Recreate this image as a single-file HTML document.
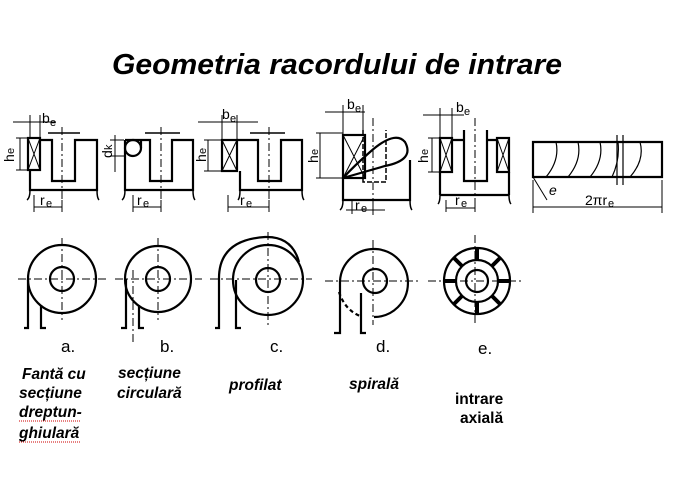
<!DOCTYPE html>
<html><head><meta charset="utf-8"><style>
html,body{margin:0;padding:0;background:#fff;}
svg{display:block}
text{font-family:"Liberation Sans",sans-serif;fill:#000}
.t{font-weight:bold;font-style:italic;font-size:15.5px}
</style></head><body>
<svg width="675" height="497" viewBox="0 0 675 497" xmlns="http://www.w3.org/2000/svg">
<rect width="675" height="497" fill="#fff"/>
<text x="337" y="74" text-anchor="middle" textLength="450" lengthAdjust="spacingAndGlyphs" style="font-weight:bold;font-style:italic;font-size:29px">Geometria racordului de intrare</text>

<g fill="none" stroke="#000" stroke-width="2.2">
<!-- a -->
<rect x="28" y="138" width="12" height="32"/>
<path d="M28 138 L40 170 M40 138 L28 170" stroke-width="1"/>
<path d="M40 140 H52 V181 H75 V140 H97 V190 H30 V170"/>
<path d="M30 190 Q30 198 27 200 M97 190 Q97 198 99 200" stroke-width="1.5"/>
<path d="M48 133 H80" stroke-width="1.5"/>
<path d="M62 127 V210" stroke-width="1" stroke-dasharray="8,3,2,3"/>
<path d="M13 122 H56 M30 115 V138 M40 115 V138 M20 138 V170 M16 138 H28 M16 170 H28 M34 195 V212 M62 200 V212 M34 207 H62" stroke-width="1"/>
<!-- b -->
<circle cx="133" cy="148" r="8"/>
<path d="M125 140 H141 V148 M125 140 V190 H193 V140 H172 V181 H150 V140 H141" />
<path d="M125 190 Q125 198 122 200 M193 190 Q193 198 195 200" stroke-width="1.5"/>
<path d="M145 133 H180" stroke-width="1.5"/>
<path d="M161 127 V210" stroke-width="1" stroke-dasharray="8,3,2,3"/>
<path d="M115 135 V172 M110 140 H124 M110 156 H124 M133 195 V212 M161 200 V212 M133 207 H161" stroke-width="1"/>
<!-- c -->
<rect x="222" y="140" width="15" height="31"/>
<path d="M222 140 L237 171 M237 140 L222 171" stroke-width="1"/>
<path d="M237 140 H258 V181 H281 V140 H302 V190 H240 V171"/>
<path d="M240 190 Q240 198 238 200 M302 190 Q302 198 304 200" stroke-width="1.5"/>
<path d="M250 133 H285" stroke-width="1.5"/>
<path d="M269 127 V212" stroke-width="1" stroke-dasharray="8,3,2,3"/>
<path d="M198 122 H258 M222 115 V140 M237 115 V140 M208 140 V171 M204 140 H222 M204 171 H222 M228 195 V212 M269 200 V212 M228 207 H269" stroke-width="1"/>
<!-- d -->
<rect x="343" y="135" width="22" height="43"/>
<path d="M343 135 L365 178 M365 135 L343 178" stroke-width="1"/>
<path d="M343 178 L385 166 Q415 160 405 142 Q395 130 370 152 Q355 165 343 178" />
<path d="M363 130 V182 H386 V130" stroke-width="1.5" stroke-dasharray="5,2"/>
<path d="M343 178 V200 H410 V160" />
<path d="M343 200 Q343 208 340 210 M410 200 Q410 208 412 210" stroke-width="1.5"/>
<path d="M373 118 V215" stroke-width="1" stroke-dasharray="8,3,2,3"/>
<path d="M325 112 H365 M343 105 V135 M363 105 V130 M320 133 V178 M316 133 H343 M316 178 H343 M352 200 V214 M373 200 V214 M346 210 H385" stroke-width="1"/>
<!-- e -->
<rect x="440" y="138" width="12" height="34"/>
<path d="M440 138 L452 172 M452 138 L440 172" stroke-width="1"/>
<rect x="497" y="138" width="12" height="34"/>
<path d="M497 138 L509 172 M509 138 L497 172" stroke-width="1"/>
<path d="M452 140 H464 V181 H487 V130 M464 130 V140 M487 140 H497"/>
<path d="M440 172 V195 M509 172 V195 M440 195 H509" />
<path d="M440 195 Q440 202 438 204 M509 195 Q509 202 511 204" stroke-width="1.5"/>
<path d="M475 118 V212" stroke-width="1" stroke-dasharray="8,3,2,3"/>
<path d="M423 115 H464 M440 108 V138 M452 108 V138 M432 138 V172 M428 138 H440 M428 172 H440 M446 200 V212 M475 200 V212 M446 208 H475" stroke-width="1"/>
<!-- right unrolled -->
<path d="M533 142 H662 V177 H533 Z"/>
<path d="M546 177 Q560 160 556 142 M568 177 Q582 160 578 142 M590 177 Q604 160 600 142 M612 177 Q620 160 618 142 M630 177 Q645 160 640 142" stroke-width="1.2"/>
<path d="M617 135 V185 M623 135 V185" stroke-width="1.2"/>
<path d="M533 177 L547 200 M533 180 V213 M662 180 V213 M533 207 H662" stroke-width="1"/>

<!-- circles row -->
<g stroke-width="1" stroke-dasharray="8,3,2,3">
<path d="M18 279 H108 M62 238 V320"/>
<path d="M115 279 H202 M158 238 V320 M133 270 V345"/>
<path d="M210 279 H312 M268 232 V325"/>
<path d="M325 281 H420 M373 240 V325"/>
<path d="M428 281 H522 M475 235 V325"/>
</g>
<circle cx="62" cy="279" r="34"/><circle cx="62" cy="279" r="12"/>
<path d="M28 279 V328 H24 M41 305 V328 H46"/>
<circle cx="158" cy="279" r="33"/><circle cx="158" cy="279" r="12"/>
<path d="M126 279 V328 H121 M139 305 V328 H144"/>
<circle cx="268" cy="280" r="35"/><circle cx="268" cy="280" r="12"/>
<path d="M219 280 Q218 240 265 237 Q292 236 299 262"/>
<path d="M219 280 V328 H215 M236 280 V328 H241"/>
<path d="M374 317 A34 34 0 1 0 340 281"/>
<path d="M339 292 Q345 310 360 316" stroke-dasharray="4,3"/>
<circle cx="375" cy="281" r="12"/>
<path d="M340 281 V333 H334 M361 293 V333 H366"/>
<circle cx="477" cy="281" r="33"/><circle cx="477" cy="281" r="21"/><circle cx="477" cy="281" r="11"/>
<path d="M477 248 V260 M477 302 V314 M444 281 H456 M498 281 H510 M454 258 L462 266 M500 258 L492 266 M454 304 L462 296 M500 304 L492 296" stroke-width="4"/>
</g>

<g style="font-size:14px">
<text x="42" y="123">b</text><text x="50" y="126" style="font-size:11px">e</text>
<text x="14" y="162" transform="rotate(-90 14 162)">h</text><text x="14" y="154" transform="rotate(-90 14 154)" style="font-size:11px">e</text>
<text x="40" y="205">r</text><text x="46" y="207" style="font-size:11px">e</text>
<text x="112" y="158" transform="rotate(-90 112 158)">d</text><text x="112" y="150" transform="rotate(-90 112 150)" style="font-size:11px">k</text>
<text x="137" y="205">r</text><text x="143" y="207" style="font-size:11px">e</text>
<text x="222" y="119">b</text><text x="230" y="122" style="font-size:11px">e</text>
<text x="206" y="162" transform="rotate(-90 206 162)">h</text><text x="206" y="154" transform="rotate(-90 206 154)" style="font-size:11px">e</text>
<text x="240" y="205">r</text><text x="246" y="207" style="font-size:11px">e</text>
<text x="347" y="109">b</text><text x="355" y="112" style="font-size:11px">e</text>
<text x="318" y="163" transform="rotate(-90 318 163)">h</text><text x="318" y="155" transform="rotate(-90 318 155)" style="font-size:11px">e</text>
<text x="355" y="210">r</text><text x="361" y="212" style="font-size:11px">e</text>
<text x="456" y="112">b</text><text x="464" y="115" style="font-size:11px">e</text>
<text x="428" y="163" transform="rotate(-90 428 163)">h</text><text x="428" y="155" transform="rotate(-90 428 155)" style="font-size:11px">e</text>
<text x="455" y="205">r</text><text x="461" y="207" style="font-size:11px">e</text>
<text x="549" y="195" style="font-style:italic">e</text>
<text x="585" y="205">2πr</text><text x="608" y="207" style="font-size:11px">e</text>
</g>
<g style="font-size:17px">
<text x="61" y="352">a.</text><text x="160" y="352">b.</text><text x="270" y="352">c.</text><text x="376" y="352">d.</text><text x="478" y="354">e.</text>
</g>

<text class="t" x="22" y="379">Fantă cu</text>
<text class="t" x="19" y="398">secțiune</text>
<text class="t" x="19" y="417">dreptun-</text>
<text class="t" x="19" y="438">ghiulară</text>
<path d="M19 421 H80 M19 442 H80" stroke="#c00" stroke-width="1" stroke-dasharray="1,1"/>
<text class="t" x="118" y="378">secțiune</text>
<text class="t" x="117" y="398">circulară</text>
<text class="t" x="229" y="390">profilat</text>
<text class="t" x="349" y="389">spirală</text>
<text x="455" y="404" style="font-weight:bold;font-size:15.5px">intrare</text>
<text x="460" y="423" style="font-weight:bold;font-size:15.5px">axială</text>
</svg>
</body></html>
